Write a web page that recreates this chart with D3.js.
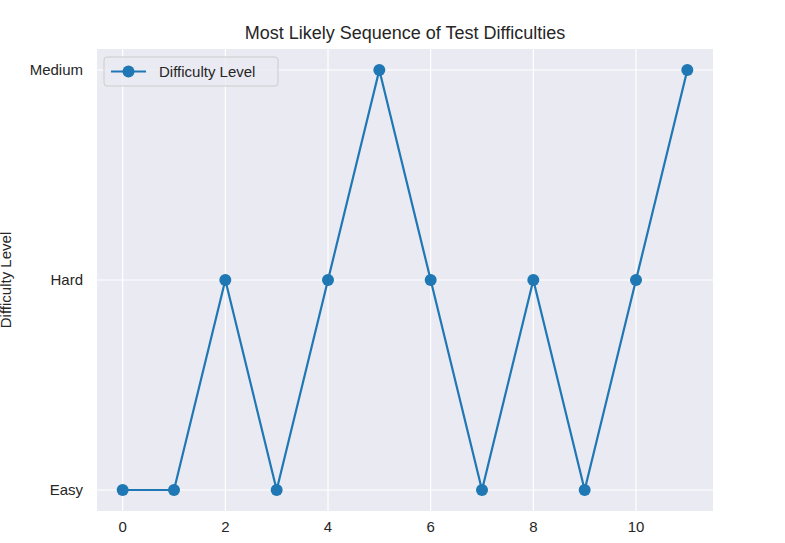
<!DOCTYPE html>
<html>
<head>
<meta charset="utf-8">
<script src="https://cdn.jsdelivr.net/npm/d3@7"></script>
<style>body{margin:0;background:#fff}</style>
</head>
<body>
<div id="chart"></div>
<script>
// Data
const steps = [0, 1, 2, 3, 4, 5, 6, 7, 8, 9, 10, 11];
const levels = ['Easy', 'Easy', 'Hard', 'Easy', 'Hard', 'Medium', 'Hard', 'Easy', 'Hard', 'Easy', 'Hard', 'Medium'];
const categories = ['Easy', 'Hard', 'Medium'];
const xTicks = [0, 2, 4, 6, 8, 10];

const W = 785, H = 543;
const m = { left: 97, right: 713, top: 49, bottom: 511 };
const font = 'Liberation Sans, Arial, sans-serif';
const blue = '#1f77b4';

const svg = d3.select('#chart').append('svg')
    .attr('width', W).attr('height', H)
    .style('font-family', font);

const x = d3.scaleLinear().domain([-0.5, 11.5]).range([m.left, m.right]);
const y = d3.scaleLinear().domain([-0.1, 2.1]).range([m.bottom, m.top]);
const yIdx = c => categories.indexOf(c);

// Background
svg.append('rect')
    .attr('x', m.left).attr('y', m.top)
    .attr('width', m.right - m.left).attr('height', m.bottom - m.top)
    .attr('fill', '#eaeaf2');

// Grid
svg.selectAll('.vgrid').data(xTicks).enter().append('line')
    .attr('x1', d => x(d)).attr('x2', d => x(d))
    .attr('y1', m.top).attr('y2', m.bottom)
    .attr('stroke', '#fff').attr('stroke-width', 1.2);
svg.selectAll('.hgrid').data(categories).enter().append('line')
    .attr('x1', m.left).attr('x2', m.right)
    .attr('y1', (d, i) => y(i)).attr('y2', (d, i) => y(i))
    .attr('stroke', '#fff').attr('stroke-width', 1.2);

// Tick labels
svg.selectAll('.xt').data(xTicks).enter().append('text')
    .attr('x', d => x(d)).attr('y', m.bottom + 21)
    .attr('text-anchor', 'middle').attr('font-size', 15).attr('fill', '#262626')
    .text(d => d);
svg.selectAll('.yt').data(categories).enter().append('text')
    .attr('x', m.left - 14).attr('y', (d, i) => y(i))
    .attr('dy', '0.35em')
    .attr('text-anchor', 'end').attr('font-size', 15).attr('fill', '#262626')
    .text(d => d);

// Axis label & title
svg.append('text')
    .attr('transform', `translate(11,${(m.top + m.bottom) / 2}) rotate(-90)`)
    .attr('text-anchor', 'middle').attr('font-size', 15).attr('fill', '#262626')
    .text('Difficulty Level');
svg.append('text')
    .attr('x', (m.left + m.right) / 2).attr('y', 39)
    .attr('text-anchor', 'middle').attr('font-size', 18).attr('fill', '#262626')
    .text('Most Likely Sequence of Test Difficulties');

// Line + markers
const line = d3.line().x((d, i) => x(steps[i])).y(d => y(yIdx(d)));
svg.append('path').datum(levels)
    .attr('d', line).attr('fill', 'none')
    .attr('stroke', blue).attr('stroke-width', 2.2);
svg.selectAll('.pt').data(levels).enter().append('circle')
    .attr('cx', (d, i) => x(steps[i])).attr('cy', d => y(yIdx(d)))
    .attr('r', 6).attr('fill', blue);

// Legend
const lg = svg.append('g').attr('transform', 'translate(104,57)');
lg.append('rect').attr('width', 174).attr('height', 29).attr('rx', 3)
    .attr('fill', '#eaeaf2').attr('fill-opacity', 0.8)
    .attr('stroke', '#cccccc');
lg.append('line').attr('x1', 7).attr('x2', 42).attr('y1', 14.5).attr('y2', 14.5)
    .attr('stroke', blue).attr('stroke-width', 2.2);
lg.append('circle').attr('cx', 24.5).attr('cy', 14.5).attr('r', 6).attr('fill', blue);
lg.append('text').attr('x', 55).attr('y', 14.5).attr('dy', '0.35em')
    .attr('font-size', 15).attr('fill', '#262626').text('Difficulty Level');
</script>
</body>
</html>
